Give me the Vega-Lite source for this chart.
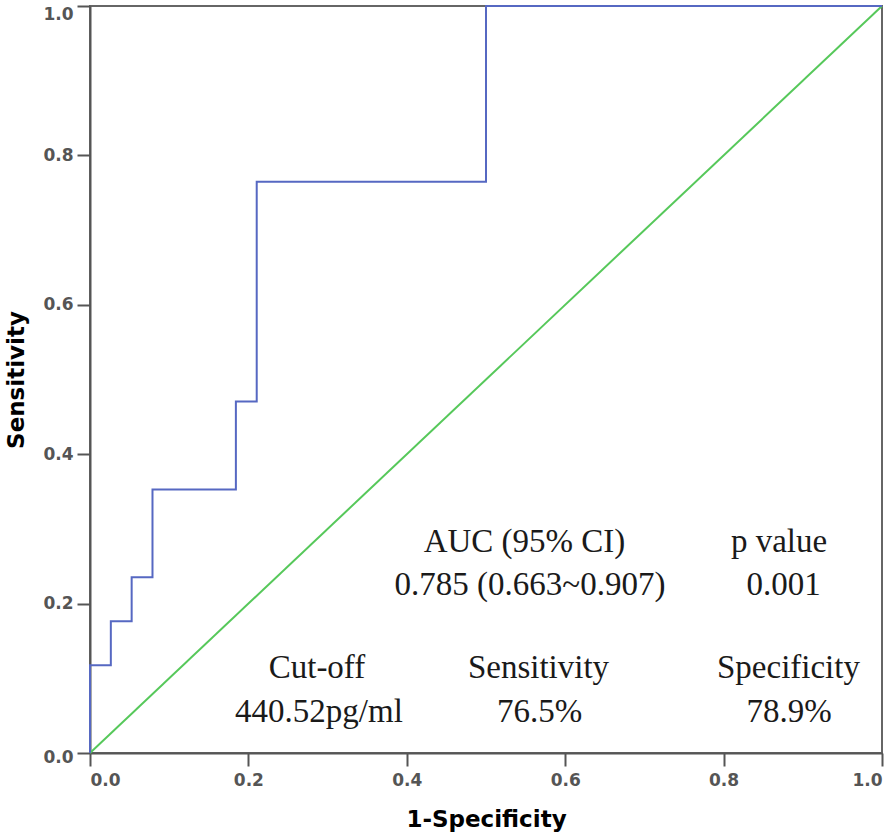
{
  "$schema": "https://vega.github.io/schema/vega-lite/v6.json",
  "width": 792,
  "height": 747,
  "autosize": {"type": "none"},
  "padding": {"left": 90, "top": 6, "right": 14, "bottom": 86},
  "background": "white",
  "config": {
    "view": {"stroke": "#666666", "strokeWidth": 2},
    "axis": {
      "grid": false,
      "domainColor": "#555555",
      "domainWidth": 2,
      "tickColor": "#555555",
      "tickWidth": 2,
      "tickSize": 13,
      "labelFont": "DejaVu Sans",
      "labelFontSize": 17,
      "labelFontWeight": "bold",
      "labelColor": "#555555",
      "titleFont": "DejaVu Sans",
      "titleFontSize": 23,
      "titleFontWeight": "bold",
      "titleColor": "#000000"
    }
  },
  "datasets": {
    "diag": [{"fpr": 0, "tpr": 0}, {"fpr": 1, "tpr": 1}],
    "roc": [
      {"i": 0, "fpr": 0, "tpr": 0},
      {"i": 1, "fpr": 0, "tpr": 0.1176},
      {"i": 2, "fpr": 0.0263, "tpr": 0.1176},
      {"i": 3, "fpr": 0.0263, "tpr": 0.1765},
      {"i": 4, "fpr": 0.0526, "tpr": 0.1765},
      {"i": 5, "fpr": 0.0526, "tpr": 0.2353},
      {"i": 6, "fpr": 0.0789, "tpr": 0.2353},
      {"i": 7, "fpr": 0.0789, "tpr": 0.3529},
      {"i": 8, "fpr": 0.1842, "tpr": 0.3529},
      {"i": 9, "fpr": 0.1842, "tpr": 0.4706},
      {"i": 10, "fpr": 0.2105, "tpr": 0.4706},
      {"i": 11, "fpr": 0.2105, "tpr": 0.7647},
      {"i": 12, "fpr": 0.5, "tpr": 0.7647},
      {"i": 13, "fpr": 0.5, "tpr": 1},
      {"i": 14, "fpr": 1, "tpr": 1}
    ],
    "notes": [
      {"label": "AUC (95% CI)", "x": 0.5486, "y": 0.269},
      {"label": "0.785 (0.663~0.907)", "x": 0.5556, "y": 0.2115},
      {"label": "p value", "x": 0.870, "y": 0.269},
      {"label": "0.001", "x": 0.8757, "y": 0.2115},
      {"label": "Cut-off", "x": 0.2866, "y": 0.1004},
      {"label": "440.52pg/ml", "x": 0.2891, "y": 0.0415},
      {"label": "Sensitivity", "x": 0.5663, "y": 0.1004},
      {"label": "76.5%", "x": 0.5676, "y": 0.0415},
      {"label": "Specificity", "x": 0.8819, "y": 0.1004},
      {"label": "78.9%", "x": 0.8826, "y": 0.0415}
    ]
  },
  "layer": [
    {
      "data": {"name": "diag"},
      "mark": {"type": "line", "color": "#56c85a", "strokeWidth": 2},
      "encoding": {
        "x": {
          "field": "fpr", "type": "quantitative",
          "scale": {"domain": [0, 1], "nice": false},
          "axis": {"values": [0, 0.2, 0.4, 0.6, 0.8, 1], "format": ".1f", "title": "1-Specificity", "labelFontSize": 17, "labelPadding": 6, "titlePadding": 20}
        },
        "y": {
          "field": "tpr", "type": "quantitative",
          "scale": {"domain": [0, 1], "nice": false},
          "axis": {
            "values": [0, 0.2, 0.4, 0.6, 0.8, 1], "format": ".1f", "title": "Sensitivity",
            "labelFontSize": 17, "labelPadding": 4, "titlePadding": 14,
            "labelBaseline": {"condition": {"test": "datum.value == 1", "value": "top"}, "value": "middle"},
            "labelOffset": {"condition": {"test": "datum.value == 0", "value": 4}, "value": 0}
          }
        }
      }
    },
    {
      "data": {"name": "roc"},
      "mark": {"type": "line", "color": "#5668c2", "strokeWidth": 2},
      "encoding": {
        "x": {"field": "fpr", "type": "quantitative"},
        "y": {"field": "tpr", "type": "quantitative"},
        "order": {"field": "i", "type": "quantitative"}
      }
    },
    {
      "data": {"name": "notes"},
      "mark": {"type": "text", "font": "Liberation Serif", "fontSize": 33, "color": "#1a1a1a", "align": "center", "baseline": "alphabetic"},
      "encoding": {
        "x": {"field": "x", "type": "quantitative"},
        "y": {"field": "y", "type": "quantitative"},
        "text": {"field": "label", "type": "nominal"}
      }
    }
  ]
}
